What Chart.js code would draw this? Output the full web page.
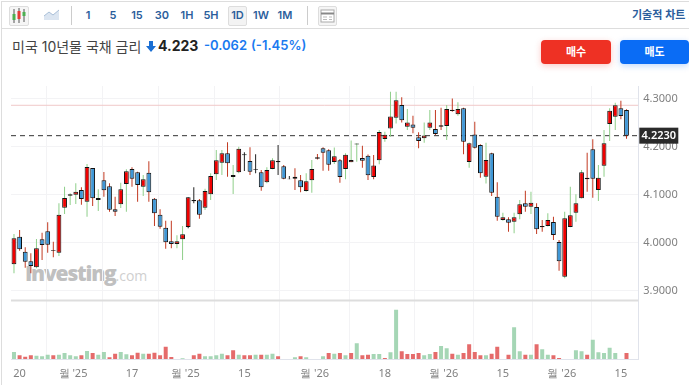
<!DOCTYPE html>
<html lang="ko">
<head>
<meta charset="utf-8">
<title>미국 10년물 국채 금리</title>
<script src="https://cdn.jsdelivr.net/npm/chart.js@4"></script>
<style>
  html, body { margin: 0; padding: 0; background: #fff; }
  body { width: 689px; height: 385px; overflow: hidden; position: relative;
    font-family: Inter, "Noto Sans CJK KR", "Noto Sans", sans-serif; }
  .abs { position: absolute; white-space: nowrap; }
  #chartWrap { position: absolute; left: 0; top: 0; z-index: 2; }
  #watermark { left: 25px; top: 259px; z-index: 1; color: #c0c0c0; font: 800 21px "Open Sans", sans-serif; letter-spacing: -1.2px; }
  #watermark span { font-weight: 400; font-size: 14px; letter-spacing: 0; color: #cfcfcf; }
  #leftLine { left: 1px; top: 1px; width: 1px; height: 384px; background: #ddd; }
  #topLine { left: 1px; top: 1px; width: 688px; height: 1px; background: #ddd; }
  #toolLine { left: 1px; top: 28px; width: 688px; height: 1px; background: #ddd; }
  .sep { top: 6px; width: 1px; height: 19px; background: #ccc; }
  .period { top: 7px; width: 20px; height: 17px; line-height: 17px; text-align: center; font-size: 11px; font-weight: 600; color: #2b5e9c; }
  .period.on { left: 228px; top: 6px; width: 17px; height: 18px; background: #f3f3f3; border: 1px solid #ddd; border-radius: 2px; }
  .iconBox { top: 6px; height: 18px; background: #f5f5f5; border: 1px solid #ddd; border-radius: 2px; }
  #chartType { left: 632px; top: 6px; font-size: 11px; font-weight: 600; color: #2b5e9c; }
  #title { left: 12px; top: 36px; font-size: 14px; color: #444; }
  #arrow { left: 146px; top: 41px; }
  #last { left: 158px; top: 37px; font-size: 14px; font-weight: 700; color: #222; }
  #change { left: 204px; top: 37px; font-size: 13px; font-weight: 600; color: #1a7af0; }
  #changePct { left: 251px; top: 37px; font-size: 13px; font-weight: 600; color: #1a7af0; }
  .btn { top: 40px; height: 24px; line-height: 24px; border-radius: 4px; color: #fff; font-size: 11px; font-weight: 700; text-align: center; }
  #buy { left: 541px; width: 70px; background: #ee3124; box-shadow: 0 2px 6px rgba(238,49,36,.25); }
  #sell { left: 620px; width: 69px; background: #0a6cf5; box-shadow: 0 2px 6px rgba(10,108,245,.25); }
</style>
</head>
<body>
<div class="abs" id="leftLine"></div>
<div class="abs" id="topLine"></div>
<div class="abs" id="toolLine"></div>

<div class="abs iconBox" style="left:9px;width:18px">
  <svg width="18" height="18" viewBox="0 0 18 18">
    <path d="M4 2v14M9 1v15M14 2v13" stroke="#555" fill="none"/>
    <rect x="2.5" y="7" width="3" height="6" fill="#4caf50"/>
    <rect x="7.5" y="4" width="3" height="8" fill="#e53935"/>
    <rect x="12.5" y="5" width="3" height="4" fill="#4caf50"/>
  </svg>
</div>
<svg class="abs" style="left:44px;top:9px" width="16" height="12" viewBox="0 0 16 12">
  <path d="M0 7l5-4 4 3 6-5v10H0z" fill="#dbe5f1"/>
  <path d="M0 7l5-4 4 3 6-5" stroke="#a9bfd8" fill="none"/>
</svg>
<div class="abs sep" style="left:71px"></div>
<div class="abs period" style="left:78px">1</div>
<div class="abs period" style="left:103px">5</div>
<div class="abs period" style="left:127px">15</div>
<div class="abs period" style="left:152px">30</div>
<div class="abs period" style="left:177px">1H</div>
<div class="abs period" style="left:201px">5H</div>
<div class="abs period on">1D</div>
<div class="abs period" style="left:251px">1W</div>
<div class="abs period" style="left:275px">1M</div>
<div class="abs sep" style="left:307px"></div>
<div class="abs iconBox" style="left:318px;width:17px">
  <svg width="17" height="18" viewBox="0 0 17 18">
    <rect x="2" y="3" width="13" height="12" fill="#fff" stroke="#aaa"/>
    <path d="M2 6.5h13" stroke="#888" stroke-width="2"/>
    <path d="M4 10h4M4 12.5h4M10 10h3M10 12.5h3" stroke="#bbb"/>
  </svg>
</div>
<div class="abs" id="chartType">기술적 차트 :</div>

<div class="abs" id="title">미국 10년물 국채 금리</div>
<svg class="abs" id="arrow" width="10" height="11" viewBox="0 0 10 11"><path d="M3 0h4v5h3l-5 6-5-6h3z" fill="#1a6fd4"/></svg>
<div class="abs" id="last">4.223</div>
<div class="abs" id="change">-0.062</div>
<div class="abs" id="changePct">(-1.45%)</div>
<div class="abs btn" id="buy">매수</div>
<div class="abs btn" id="sell">매도</div>

<div class="abs" id="watermark">Investing<span>.com</span></div>
<div id="chartWrap"><canvas id="myChart" width="689" height="385"></canvas></div>

<script>
// daily candles
const opens = [
  3.9549, 4.0126, 3.9813, 3.9612, 3.9487, 4.0070, 4.0237, 3.9830, 3.9792, 4.0730,
  4.0980, 4.1001, 4.1098, 4.0855, 4.1556, 4.0890, 4.1299, 4.1174, 4.0695, 4.0799,
  4.1223, 4.1535, 4.1466, 4.1167, 4.1459, 4.0917, 4.0584, 4.0313, 4.0029, 3.9973,
  4.0070, 4.0327, 4.0862, 4.0883, 4.0730, 4.1008, 4.1424, 4.1667, 4.1862, 4.1369,
  4.1466, 4.1820, 4.1702, 4.1515, 4.1466, 4.1258, 4.1535, 4.1674, 4.1591, 4.1334,
  4.1376, 4.1299, 4.1077, 4.1299, 4.1751, 4.1966, 4.1924, 4.1681, 4.1716, 4.1535,
  4.1674, 4.2045, 4.1764, 4.1813, 4.1368, 4.1716, 4.2160, 4.2382, 4.2604, 4.2868,
  4.2417, 4.2465, 4.2195, 4.2174, 4.2396, 4.2368, 4.2417, 4.2431, 4.2743, 4.2674,
  4.2799, 4.1681, 4.2257, 4.2035, 4.1375, 4.1862, 4.0959, 4.0473, 4.0487, 4.0438,
  4.0591, 4.0820, 4.0750, 4.0743, 4.0348, 4.0348, 4.0431, 4.0014, 3.9292, 4.0327,
  4.0625, 4.0924, 4.1355, 4.1945, 4.1098, 4.1605, 4.2473, 4.2625, 4.2799, 4.2764
];
const closes = [
  4.0091, 3.9862, 3.9605, 3.9515, 3.9883, 3.9952, 3.9959, 3.9850, 4.0584, 4.0931,
  4.1008, 4.1063, 4.0910, 4.1577, 4.0924, 4.0931, 4.1091, 4.0688, 4.0647, 4.1112,
  4.1487, 4.1334, 4.1202, 4.1320, 4.1049, 4.0612, 4.0334, 4.0008, 3.9973, 4.0029,
  4.0174, 4.0945, 4.0890, 4.0584, 4.1077, 4.1390, 4.1716, 4.1862, 4.1654, 4.1410,
  4.1959, 4.1841, 4.1480, 4.1528, 4.1154, 4.1515, 4.1716, 4.1702, 4.1334, 4.1320,
  4.1334, 4.1154, 4.1279, 4.1535, 4.1778, 4.1876, 4.1626, 4.1799, 4.1368, 4.1834,
  4.1722, 4.2065, 4.1709, 4.1403, 4.1611, 4.2306, 4.2250, 4.2632, 4.2966, 4.2549,
  4.2507, 4.2396, 4.2118, 4.2236, 4.2507, 4.2264, 4.2445, 4.2785, 4.2771, 4.2785,
  4.2104, 4.2070, 4.1979, 4.1445, 4.1722, 4.1042, 4.0542, 4.0528, 4.0417, 4.0528,
  4.0799, 4.0750, 4.0834, 4.0278, 4.0320, 4.0473, 4.0160, 3.9612, 4.0507, 4.0570,
  4.0820, 4.1466, 4.1320, 4.1334, 4.1355, 4.2070, 4.2750, 4.2862, 4.2639, 4.2230
];
const highs = [
  4.0181, 4.0265, 3.9904, 3.9779, 4.0077, 4.0209, 4.0424, 4.0022, 4.0820, 4.1167,
  4.1029, 4.1237, 4.1154, 4.1640, 4.1556, 4.1112, 4.1473, 4.1237, 4.0959, 4.1251,
  4.1529, 4.1570, 4.1480, 4.1410, 4.1695, 4.0931, 4.0695, 4.0459, 4.0459, 4.0154,
  4.0348, 4.0945, 4.1154, 4.0910, 4.1125, 4.1445, 4.1931, 4.1931, 4.2091, 4.1619,
  4.2001, 4.1883, 4.1987, 4.1841, 4.1515, 4.1570, 4.1758, 4.2035, 4.1619, 4.1390,
  4.1549, 4.1410, 4.1445, 4.1723, 4.1848, 4.1987, 4.1945, 4.1985, 4.1743, 4.1862,
  4.2132, 4.2070, 4.2021, 4.1840, 4.1827, 4.2348, 4.2313, 4.3146, 4.3146, 4.3028,
  4.2785, 4.2646, 4.2299, 4.2507, 4.2764, 4.2764, 4.2813, 4.2868, 4.3007, 4.2924,
  4.2813, 4.2090, 4.2521, 4.2049, 4.2084, 4.1875, 4.1257, 4.0625, 4.0530, 4.0625,
  4.0889, 4.1084, 4.1063, 4.0820, 4.0473, 4.0612, 4.0542, 4.0056, 4.0646, 4.1167,
  4.1007, 4.1514, 4.1875, 4.2153, 4.1618, 4.2348, 4.2799, 4.2917, 4.2959, 4.2778
];
const lows = [
  3.9362, 3.9834, 3.9480, 3.9362, 3.9466, 3.9640, 3.9792, 3.9695, 3.9723, 4.0598,
  4.0786, 4.0806, 4.0792, 4.0542, 4.0765, 4.0660, 4.0959, 4.0647, 4.0556, 4.0723,
  4.0647, 4.1167, 4.0855, 4.0973, 4.0855, 4.0348, 4.0292, 3.9876, 3.9883, 3.9883,
  3.9640, 4.0299, 4.0820, 4.0501, 4.0681, 4.0890, 4.1306, 4.1410, 4.1376, 4.1015,
  4.1445, 4.1494, 4.1410, 4.1445, 4.1084, 4.1237, 4.1529, 4.1410, 4.1320, 4.1320,
  4.1098, 4.1049, 4.1063, 4.1042, 4.1736, 4.1501, 4.1501, 4.1639, 4.1250, 4.1320,
  4.1674, 4.1688, 4.1563, 4.1306, 4.1320, 4.1632, 4.2104, 4.2208, 4.2486, 4.2507,
  4.2347, 4.2278, 4.1970, 4.2084, 4.2347, 4.2243, 4.2347, 4.2139, 4.2729, 4.2646,
  4.1841, 4.1563, 4.1965, 4.1354, 4.1236, 4.0973, 4.0459, 4.0459, 4.0230, 4.0195,
  4.0487, 4.0646, 4.0598, 4.0181, 4.0230, 4.0340, 4.0056, 3.9417, 3.9257, 4.0320,
  4.0438, 4.0920, 4.1063, 4.0938, 4.0868, 4.1375, 4.2118, 4.2348, 4.2570, 4.2167
];
// wick tone per candle: u = up tick, d = down tick, n = flat
const wickSide = [
  "u", "d", "d", "d", "u", "d", "d", "d", "u", "u",
  "u", "u", "d", "u", "d", "u", "d", "d", "d", "u",
  "u", "d", "d", "u", "d", "d", "d", "d", "d", "u",
  "u", "n", "n", "d", "u", "u", "u", "u", "d", "u",
  "u", "n", "d", "n", "d", "u", "u", "n", "d", "n",
  "d", "d", "u", "u", "d", "d", "d", "u", "d", "u",
  "u", "u", "d", "d", "d", "u", "u", "u", "u", "d",
  "u", "d", "d", "u", "u", "d", "d", "u", "d", "u",
  "d", "u", "d", "d", "u", "d", "d", "u", "d", "u",
  "u", "d", "u", "d", "d", "u", "d", "d", "u", "u",
  "u", "u", "d", "d", "u", "u", "u", "u", "d", "d"
];
const volumes = [
  7, 3.7, 2.3, 3.7, 3.3, 2.7, 4.3, 3.7, 4.3, 6,
  3.7, 2.7, 3.7, 8, 6, 4.3, 7, 1.7, 5.3, 7,
  4.7, 3.7, 6.3, 5.3, 5.3, 6.3, 3.7, 12.3, 2, 0,
  0.7, 0, 3.7, 5.3, 2.7, 2.7, 3.7, 5.3, 3.7, 8.7,
  4.3, 3.7, 3.7, 4.3, 4.3, 4.3, 5.3, 2.7, 0, 0,
  1.7, 2.7, 1.7, 0, 0, 2.7, 6, 5.3, 6, 3.7,
  6, 15.7, 3.7, 4.3, 5, 5, 1, 6.7, 49.3, 7.7,
  5, 5, 6, 3.7, 5, 7, 13, 10.7, 5.3, 4.3,
  6, 14.7, 7, 3.7, 3.7, 5.3, 12.3, 0, 4.3, 31.7,
  7.7, 4.3, 4.3, 14.7, 9.7, 4.3, 3.7, 1, 0, 0,
  8.7, 7.7, 4.3, 19.3, 6.7, 6, 11.3, 6, 0, 6
];
const volumeSide = [
  "g", "r", "r", "r", "g", "g", "g", "r", "g", "g",
  "g", "g", "r", "g", "r", "g", "g", "r", "r", "g",
  "g", "r", "r", "g", "r", "r", "r", "r", "r", "r",
  "g", "g", "r", "r", "g", "g", "g", "g", "r", "r",
  "g", "r", "r", "g", "r", "g", "g", "r", "r", "r",
  "g", "r", "g", "g", "g", "g", "r", "g", "r", "g",
  "r", "g", "r", "r", "g", "g", "r", "g", "g", "r",
  "r", "r", "r", "g", "g", "r", "g", "g", "r", "g",
  "r", "r", "r", "r", "g", "r", "r", "r", "r", "g",
  "g", "r", "g", "r", "g", "g", "r", "r", "r", "r",
  "g", "g", "r", "g", "g", "g", "g", "g", "r", "r"
];

const tickIndex = [1, 10.5, 21, 30.5, 41, 53.5, 66, 76.5, 87, 97.5, 108];
const tickLabels = ["20", "월 '25", "17", "월 '25", "15", "월 '26", "18", "월 '26", "15", "월 '26", "15"];
const priceTicks = [3.9, 4.0, 4.1, 4.2, 4.3];
const lastPrice = 4.223;
const refLevel = 4.2863;

const wickColors = { u: "#8fcf8a", d: "#c23a22", n: "#222222" };
const volumeColors = { g: "#a5d6b5", r: "#e56b6b" };
const xMin = -0.53;
const xMax = 111.1;
const axisFont = { family: "'Noto Sans', sans-serif", size: 11 };

// panel divider and the last price tag
const chartExtras = {
  id: "chartExtras",
  afterDraw(chart) {
    const { ctx, chartArea, scales } = chart;
    ctx.save();
    ctx.fillStyle = "#dddddd";
    ctx.fillRect(chartArea.left, scales.y.bottom - 0.5, chartArea.right - chartArea.left, 2);

    const tagY = scales.y.getPixelForValue(lastPrice);
    ctx.fillStyle = "#2a2a2a";
    ctx.fillRect(chartArea.right + 1, tagY - 8, 39, 16);
    ctx.fillStyle = "#ffffff";
    ctx.font = "600 11px 'Noto Sans', sans-serif";
    ctx.textAlign = "center";
    ctx.textBaseline = "middle";
    ctx.fillText(lastPrice.toFixed(4), chartArea.right + 20.5, tagY + 0.5);
    ctx.restore();
  },
};

const ctx = document.getElementById("myChart").getContext("2d");

new Chart(ctx, {
  data: {
    datasets: [
      {
        type: "line",
        order: 6,
        yAxisID: "y",
        data: [{ x: xMin, y: lastPrice }, { x: xMax, y: lastPrice }],
        borderColor: "#333333",
        borderWidth: 1,
        borderDash: [5, 4],
        pointRadius: 0,
      },
      {
        type: "line",
        order: 5,
        yAxisID: "y",
        data: [{ x: xMin, y: refLevel }, { x: xMax, y: refLevel }],
        borderColor: "#f0c8c8",
        borderWidth: 1,
        pointRadius: 0,
      },
      {
        type: "bar",
        order: 3,
        yAxisID: "y",
        grouped: false,
        barThickness: 1,
        inflateAmount: 0,
        data: lows.map((low, i) => ({ x: i, y: [low, highs[i]] })),
        backgroundColor: (c) => wickColors[wickSide[c.dataIndex]],
      },
      {
        type: "bar",
        order: 2,
        yAxisID: "y",
        grouped: false,
        barThickness: 4.8,
        borderWidth: 1,
        borderSkipped: false,
        inflateAmount: 0,
        borderColor: "#111111",
        data: opens.map((open, i) => ({ x: i, y: [open, closes[i]] })),
        backgroundColor: (c) => (closes[c.dataIndex] >= opens[c.dataIndex] ? "#f00000" : "#3f97d6"),
      },
      {
        type: "bar",
        order: 1,
        yAxisID: "v",
        grouped: false,
        barThickness: 4,
        inflateAmount: 0,
        data: volumes.map((value, i) => ({ x: i, y: value })),
        backgroundColor: (c) => volumeColors[volumeSide[c.dataIndex]],
      },
    ],
  },
  options: {
    responsive: false,
    animation: false,
    layout: { padding: { left: 11, top: 86, right: 0, bottom: 0 } },
    plugins: { legend: { display: false }, tooltip: { enabled: false } },
    scales: {
      x: {
        type: "linear",
        offset: false,
        min: xMin,
        max: xMax,
        afterBuildTicks: (scale) => {
          scale.ticks = tickIndex.map((value) => ({ value }));
        },
        afterFit: (scale) => {
          scale.height = 26;
        },
        grid: { color: "#f3f3f5", drawTicks: false },
        border: { color: "#e0e3eb" },
        ticks: {
          autoSkip: false,
          maxRotation: 0,
          padding: 8,
          color: "#808080",
          font: axisFont,
          callback: (value) => tickLabels[tickIndex.indexOf(value)],
        },
      },
      y: {
        position: "right",
        stack: "panels",
        stackWeight: 214,
        min: 3.8806,
        max: 4.3265,
        afterBuildTicks: (scale) => {
          scale.ticks = priceTicks.map((value) => ({ value }));
        },
        afterFit: (scale) => {
          scale.width = 50.7;
        },
        grid: { color: "#f3f3f5", drawTicks: false },
        border: { color: "#e0e3eb" },
        ticks: {
          padding: 5,
          color: "#808080",
          font: axisFont,
          callback: (value) => value.toFixed(4),
        },
      },
      v: {
        position: "right",
        stack: "panels",
        stackWeight: 59,
        min: 0,
        max: 59,
        afterFit: (scale) => {
          scale.width = 50.7;
        },
        grid: { display: false },
        border: { color: "#e0e3eb" },
        ticks: { display: false },
      },
    },
  },
  plugins: [chartExtras],
});
</script>
</body>
</html>
